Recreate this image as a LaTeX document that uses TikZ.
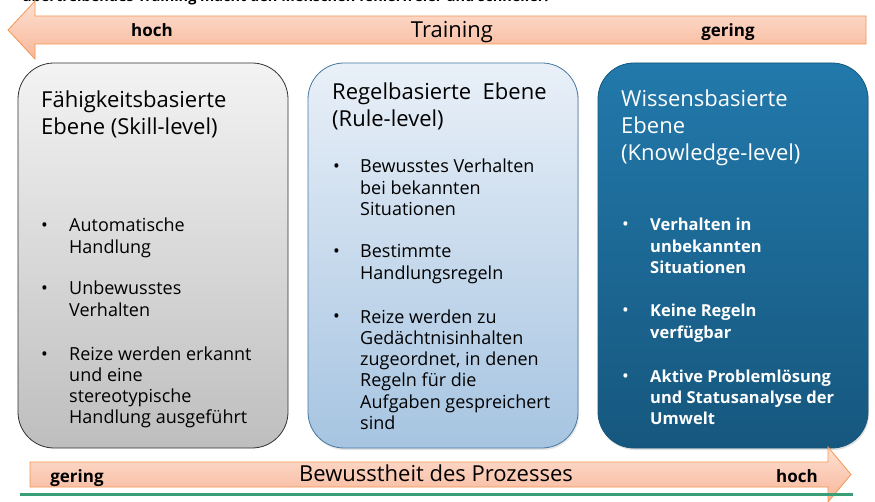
\documentclass[tikz,border=0pt]{standalone}
\usepackage{fontspec}
\setmainfont{Open Sans}
\usetikzlibrary{shadows}
\definecolor{arrtop}{RGB}{253,224,211}
\definecolor{arrbot}{RGB}{248,182,152}
\definecolor{arrline}{RGB}{245,150,80}
\definecolor{skilltop}{RGB}{243,243,243}
\definecolor{skillbot}{RGB}{190,190,190}
\definecolor{skillline}{RGB}{50,50,50}
\definecolor{ruletop}{RGB}{233,240,248}
\definecolor{rulebot}{RGB}{166,196,225}
\definecolor{ruleline}{RGB}{70,120,160}
\definecolor{knowtop}{RGB}{34,121,171}
\definecolor{knowbot}{RGB}{22,87,126}
\definecolor{greenline}{RGB}{58,158,118}
\begin{document}
\begin{tikzpicture}[x=1pt,y=-1pt,
  lvl/.style={rectangle, rounded corners=36pt, minimum width=270pt, minimum height=385pt, inner sep=0pt, line width=0.8pt},
  ttl/.style={anchor=base west, align=left, inner sep=0pt, font=\fontsize{22}{27}\selectfont},
  itm/.style={anchor=base west, align=left, inner sep=0pt, font=\fontsize{18}{21.3}\selectfont},
  kitm/.style={itm, text=white, font=\bfseries\fontsize{16.5}{21.3}\selectfont},
  bul/.style={anchor=base west, inner sep=0pt, font=\fontsize{18}{21.3}\selectfont},
  arr/.style={draw=arrline, line width=0.8pt, top color=arrtop, bottom color=arrbot},
  lbl/.style={anchor=base, inner sep=0pt, font=\bfseries\fontsize{17}{17}\selectfont},
  big/.style={anchor=base, inner sep=0pt, font=\fontsize{22}{22}\selectfont}
]
\useasboundingbox (0,0) rectangle (875,502);
\clip (0,0) rectangle (875,502);
\fill[white] (0,0) rectangle (875,502);

% cut-off caption at the top
\node (cap) [anchor=base west, inner sep=0pt, font=\bfseries\fontsize{14.5}{14.5}\selectfont] at (22,1.5) {übertreibendes Training macht den Menschen fehlerfreier und schneller.};

% top arrow (Training)
\path[arr] (866,16) -- (35,16) -- (35,1) -- (8,30) -- (35,59) -- (35,44) -- (866,44) -- cycle;
\node (th) [lbl] at (152,37) {hoch};
\node (tt) [big] at (452,37.5) {Training};
\node (tg) [lbl] at (728,37) {gering};

% level boxes
\node (skill) [lvl, draw=skillline, top color=skilltop, bottom color=skillbot] at (153,255.5) {};
\node (rule) [lvl, draw=ruleline, top color=ruletop, bottom color=rulebot,
  drop shadow={opacity=0.2, shadow xshift=1pt, shadow yshift=-2pt}] at (443,255.5) {};
\node (know) [lvl, draw=knowbot, top color=knowtop, bottom color=knowbot,
  drop shadow={opacity=0.25, shadow xshift=1pt, shadow yshift=-2pt}] at (733,255.5) {};

% Skill level text (anchor = baseline of the last line)
\node (s0) [ttl] at (41,135) {Fähigkeitsbasierte\\Ebene (Skill-level)};
\node (sb1) [bul] at (41,232) {•};
\node (s1) [itm] at (69,253.3) {Automatische\\Handlung};
\node (sb2) [bul] at (41,295) {•};
\node (s2) [itm] at (69,316.3) {Unbewusstes\\Verhalten};
\node (sb3) [bul] at (41,360) {•};
\node (s3) [itm] at (69,423.9) {Reize werden erkannt\\und eine\\stereotypische\\Handlung ausgeführt};

% Rule level text
\node (r0) [ttl] at (332,127) {Regelbasierte\ \ Ebene\\(Rule-level)};
\node (rb1) [bul] at (333,173) {•};
\node (r1) [itm] at (360,215.6) {Bewusstes Verhalten\\bei bekannten\\Situationen};
\node (rb2) [bul] at (333,258) {•};
\node (r2) [itm] at (360,279.3) {Bestimmte\\Handlungsregeln};
\node (rb3) [bul] at (333,323) {•};
\node (r3) [itm] at (360,429.5) {Reize werden zu\\Gedächtnisinhalten\\zugeordnet, in denen\\Regeln für die\\Aufgaben gespreichert\\sind};

% Knowledge level text
\node (k0) [ttl, text=white] at (621,161) {Wissensbasierte\\Ebene\\(Knowledge-level)};
\node (kb1) [bul, text=white] at (622,231) {•};
\node (k1) [kitm] at (650,273.6) {Verhalten in\\unbekannten\\Situationen};
\node (kb2) [bul, text=white] at (622,317) {•};
\node (k2) [kitm] at (650,338.3) {Keine Regeln\\verfügbar};
\node (kb3) [bul, text=white] at (622,382) {•};
\node (k3) [kitm] at (650,424.6) {Aktive Problemlösung\\und Statusanalyse der\\Umwelt};

% bottom arrow (Bewusstheit)
\path[arr] (30,462) -- (828,462) -- (828,447) -- (851,474.5) -- (828,502) -- (828,487) -- (30,487) -- cycle;
\node (bg) [lbl] at (77,482) {gering};
\node (bt) [big] at (436,481.5) {Bewusstheit des Prozesses};
\node (bh) [lbl] at (797,482) {hoch};

% green rule
\draw[greenline, line width=3pt] (20,494.5) -- (853,494.5);
\end{tikzpicture}
\end{document}
